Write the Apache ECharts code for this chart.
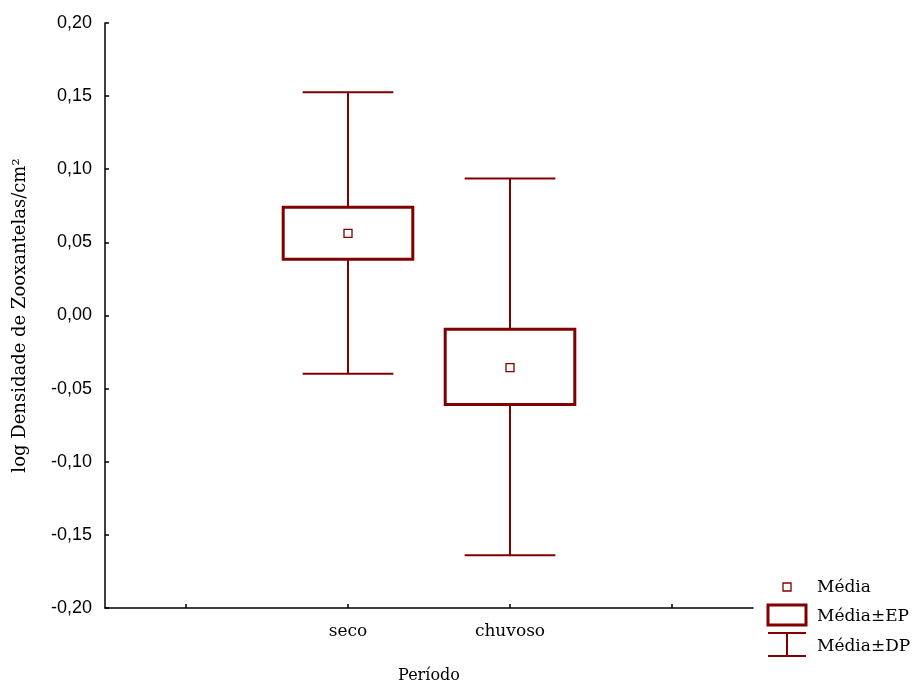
<!DOCTYPE html>
<html>
<head>
<meta charset="utf-8">
<script src="https://cdn.jsdelivr.net/npm/echarts@6/dist/echarts.min.js"></script>
<style>html,body{margin:0;padding:0;background:#fff;}#c{width:917px;height:682px;}</style>
</head>
<body>
<div id="c"></div>
<script>
// Data
var xCategories = ['', 'seco', 'chuvoso', ''];
var groups = ['seco', 'chuvoso'];
var meanVals = [0.0561, -0.0356];
var seLow = [0.0385, -0.0608];
var seHigh = [0.0740, -0.0094];
var sdLow = [-0.0398, -0.1640];
var sdHigh = [0.1527, 0.0937];
var yTicks = { min: -0.20, max: 0.20, interval: 0.05 };

var COLOR = '#800000';
var rows = groups.map(function (g, i) {
  return [xCategories.indexOf(g), sdLow[i], seLow[i], meanVals[i], seHigh[i], sdHigh[i]];
});

var chart = echarts.init(document.getElementById('c'));

function renderItem(params, api) {
  var ci = api.value(0);
  var pLo = api.coord([ci, api.value(1)]);
  var pSeL = api.coord([ci, api.value(2)]);
  var pM = api.coord([ci, api.value(3)]);
  var pSeH = api.coord([ci, api.value(4)]);
  var pHi = api.coord([ci, api.value(5)]);
  var band = api.size([1, 0])[0];
  var boxW = band * 0.8;
  var capW = band * 0.56;
  var x = pM[0];
  var lineStyle = { stroke: COLOR, lineWidth: 2 };
  return {
    type: 'group',
    children: [
      { type: 'line', shape: { x1: x, y1: pHi[1], x2: x, y2: pSeH[1] }, style: lineStyle },
      { type: 'line', shape: { x1: x, y1: pSeL[1], x2: x, y2: pLo[1] }, style: lineStyle },
      { type: 'line', shape: { x1: x - capW / 2, y1: pHi[1], x2: x + capW / 2, y2: pHi[1] }, style: lineStyle },
      { type: 'line', shape: { x1: x - capW / 2, y1: pLo[1], x2: x + capW / 2, y2: pLo[1] }, style: lineStyle },
      { type: 'rect', shape: { x: x - boxW / 2, y: pSeH[1], width: boxW, height: pSeL[1] - pSeH[1] },
        style: { fill: '#fff', stroke: COLOR, lineWidth: 3 } },
      { type: 'rect', shape: { x: x - 4, y: pM[1] - 4, width: 8, height: 8 },
        style: { fill: '#fff', stroke: COLOR, lineWidth: 1.3 } }
    ]
  };
}

var serif = '"DejaVu Serif", serif';
var legX = 768, legText = 817;
var option = {
  animation: false,
  backgroundColor: '#fff',
  grid: { left: 105, right: 164, top: 23, bottom: 74, containLabel: false, outerBoundsMode: 'none' },
  xAxis: {
    type: 'category',
    data: xCategories,
    name: 'Período',
    nameLocation: 'middle',
    nameGap: 60,
    nameTextStyle: { fontFamily: serif, fontSize: 16, color: '#000' },
    axisLine: { onZero: false, lineStyle: { color: '#000', width: 1.5 } },
    axisTick: { show: true, alignWithLabel: true, inside: true, length: 4, interval: 0, lineStyle: { color: '#000', width: 1.5 } },
    axisLabel: { interval: 0, margin: 15, fontFamily: serif, fontSize: 17, color: '#000' },
    splitLine: { show: false }
  },
  yAxis: {
    type: 'value',
    min: yTicks.min, max: yTicks.max, interval: yTicks.interval,
    name: 'log Densidade de Zooxantelas/cm²',
    nameLocation: 'middle',
    nameGap: 76,
    nameTextStyle: { fontFamily: serif, fontSize: 18, color: '#000' },
    axisLine: { show: true, lineStyle: { color: '#000', width: 1.5 } },
    axisTick: { show: true, inside: true, length: 4, lineStyle: { color: '#000', width: 1.5 } },
    axisLabel: { margin: 13, fontFamily: '"Liberation Sans", Arial, sans-serif', fontSize: 18, color: '#000',
      formatter: function (v) { return v.toFixed(2).replace('.', ','); } },
    splitLine: { show: false }
  },
  series: [{
    type: 'custom',
    renderItem: renderItem,
    encode: { x: 0, y: [1, 2, 3, 4, 5] },
    data: rows,
    z: 10
  }],
  graphic: [
    { type: 'rect', shape: { x: legX + 15, y: 583, width: 8, height: 8 }, style: { fill: '#fff', stroke: COLOR, lineWidth: 1.3 } },
    { type: 'text', left: legText, top: 579, style: { text: 'Média', font: '17px ' + serif, fill: '#000' } },
    { type: 'rect', shape: { x: legX, y: 605, width: 38, height: 20 }, style: { fill: '#fff', stroke: COLOR, lineWidth: 3 } },
    { type: 'text', left: legText, top: 608, style: { text: 'Média±EP', font: '17px ' + serif, fill: '#000' } },
    { type: 'line', shape: { x1: legX, y1: 633, x2: legX + 38, y2: 633 }, style: { stroke: COLOR, lineWidth: 2 } },
    { type: 'line', shape: { x1: legX, y1: 656, x2: legX + 38, y2: 656 }, style: { stroke: COLOR, lineWidth: 2 } },
    { type: 'line', shape: { x1: legX + 19, y1: 633, x2: legX + 19, y2: 656 }, style: { stroke: COLOR, lineWidth: 2 } },
    { type: 'text', left: legText, top: 638, style: { text: 'Média±DP', font: '17px ' + serif, fill: '#000' } }
  ]
};
chart.setOption(option);
</script>
</body>
</html>
